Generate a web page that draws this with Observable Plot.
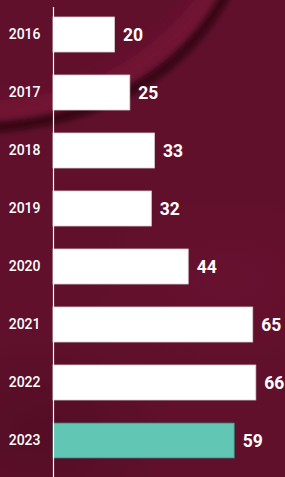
<!DOCTYPE html>
<html>
<head>
<meta charset="utf-8">
<script src="https://cdn.jsdelivr.net/npm/d3@7"></script>
<script src="https://cdn.jsdelivr.net/npm/@observablehq/plot@0.6"></script>
<style>
  html, body { margin: 0; padding: 0; }
  body {
    width: 285px; height: 477px; overflow: hidden; position: relative;
    background:
      radial-gradient(ellipse 200px 120px at 230px 280px, rgba(120,20,55,0.25), rgba(0,0,0,0) 70%),
      radial-gradient(ellipse 200px 150px at 40px 430px, rgba(30,0,10,0.2), rgba(0,0,0,0) 70%),
      #61102c;
  }
  #bg { position: absolute; left: 0; top: 0; }
  #chart { position: absolute; left: 0; top: 0; }
  #chart svg { display: block; background: transparent; }
</style>
</head>
<body>
<svg id="bg" width="285" height="477" aria-hidden="true">
  <defs>
    <filter id="b1" x="-50%" y="-50%" width="200%" height="200%"><feGaussianBlur stdDeviation="7"/></filter>
    <filter id="b2" x="-50%" y="-50%" width="200%" height="200%"><feGaussianBlur stdDeviation="3"/></filter>
  </defs>
  <path d="M -10 112 Q 70 108 125 75 T 215 -10" fill="none" stroke="rgba(150,30,70,0.35)" stroke-width="22" filter="url(#b1)"/>
  <path d="M -10 128 Q 75 122 135 88 T 228 -10" fill="none" stroke="rgba(10,0,5,0.65)" stroke-width="9" filter="url(#b2)"/>
</svg>
<div id="chart"></div>
<script>
const years = ["2016", "2017", "2018", "2019", "2020", "2021", "2022", "2023"];
const values = [20, 25, 33, 32, 44, 65, 66, 59];
const highlight = "2023";

const data = years.map((y, i) => ({year: y, value: values[i]}));
const font = "Roboto, 'Noto Sans', sans-serif";

const chart = Plot.plot({
  width: 285,
  height: 477,
  marginLeft: 53,
  marginRight: 0,
  marginTop: 4,
  marginBottom: 6,
  style: {background: "transparent", color: "white", fontFamily: font},
  x: {domain: [0, 75.5], axis: null},
  y: {domain: years, paddingInner: 0.4, paddingOuter: 0.2, label: null},
  marks: [
    Plot.barX(data, {
      y: "year", x: "value",
      fill: d => d.year === highlight ? "#62c6b5" : "#ffffff",
      stroke: d => d.year === highlight ? "#3e7d74" : "#d8d0d2",
      strokeWidth: 0.8
    }),
    Plot.text(data, {
      y: "year", x: "value", text: d => String(d.value),
      textAnchor: "start", dx: 8, fill: "white",
      fontSize: 17.5, fontWeight: "bold", fontFamily: font
    }),
    Plot.axisY({
      tickSize: 0, tickPadding: 13, fontSize: 14, fontWeight: 500,
      fill: "white", label: null, fontFamily: font
    }),
    Plot.ruleX([0], {stroke: "white", strokeWidth: 1.2, insetTop: 3, insetBottom: -6})
  ]
});
document.getElementById("chart").appendChild(chart);
</script>
</body>
</html>
